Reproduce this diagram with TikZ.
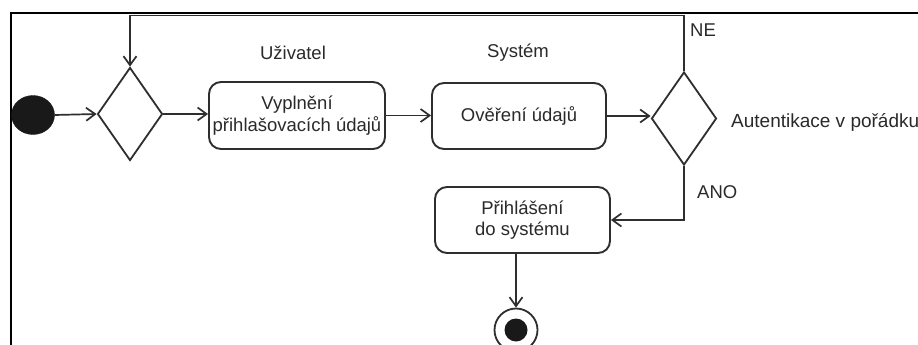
\documentclass[tikz,border=0pt]{standalone}
\usepackage{fontspec}
\setmainfont{Liberation Sans}
\usetikzlibrary{arrows.meta,shapes.geometric}
\definecolor{ink}{HTML}{2E2E2E}
\definecolor{txt}{HTML}{2A2A2A}
\tikzset{
  flow/.style={draw=ink, line width=1.7pt, -{Straight Barb[length=9pt,width=13pt,line width=1.7pt]}},
  action/.style={draw=ink, line width=1.9pt, rounded corners=12pt, inner sep=0pt,
    align=center, text=txt, font=\fontsize{18.5}{21.5}\selectfont},
  choice/.style={draw=ink, line width=1.8pt, diamond, inner sep=0pt, aspect=0.7,
    minimum width=65pt, minimum height=93pt},
  lbl/.style={text=txt, font=\fontsize{18.5}{21.5}\selectfont, inner sep=0pt},
}
\begin{document}
\begin{tikzpicture}[x=1pt,y=-1pt]
  \useasboundingbox (0,0) rectangle (918,345);
  \fill[white] (0,0) rectangle (918,345);

  % outer frame
  \draw[black, line width=2.2pt] (11,345) -- (11,13) -- (918,13);

  % start node and decisions
  \node[ellipse, fill=black!90, draw=black!90, minimum width=43pt, minimum height=39pt, inner sep=0pt] (start) at (33,115) {};
  \node[choice] (d1) at (130,114) {};
  \node[choice] (d2) at (684,118.5) {};

  % actions
  \node[action, minimum width=176pt, minimum height=67pt] (b1) at (297,115.5) {Vyplnění\\přihlašovacích údajů};
  \node[action, minimum width=174pt, minimum height=66pt] (b2) at (519,116) {Ověření údajů};
  \node[action, minimum width=175pt, minimum height=66pt] (b3) at (522.5,220) {Přihlášení\\do systému};

  % end node
  \node[circle, draw=ink, line width=1.8pt, minimum size=43pt, inner sep=0pt] (final) at (516,330) {};
  \node[circle, fill=black!90, minimum size=23pt, inner sep=0pt] (finaldot) at (516,330) {};

  % labels
  \node[lbl] (uziv) at (293,53) {Uživatel};
  \node[lbl] (sys) at (518,53) {Systém};
  \node[lbl, anchor=west] (ne) at (690,30) {NE};
  \node[lbl, anchor=west] (ano) at (697,192) {ANO};
  \node[lbl, anchor=west, font=\fontsize{19}{22}\selectfont] (auth) at (731,122) {Autentikace v pořádku};

  % connectors
  \coordinate (loop) at (400,15.5);
  \draw[flow] (start.east) -- (d1.west);
  \draw[flow] (d1.east) -- (d1.east -| b1.west);
  \draw[flow] (b1.east) -- (b1.east -| b2.west);
  \draw[flow] (b2.east) -- (b2.east -| d2.west);
  \draw[flow] (d2.north) |- (loop) -| (d1.north);
  \draw[flow] (d2.south) |- (b3.east);
  \draw[flow] (b3.south -| final.north) -- (final.north);
\end{tikzpicture}
\end{document}
